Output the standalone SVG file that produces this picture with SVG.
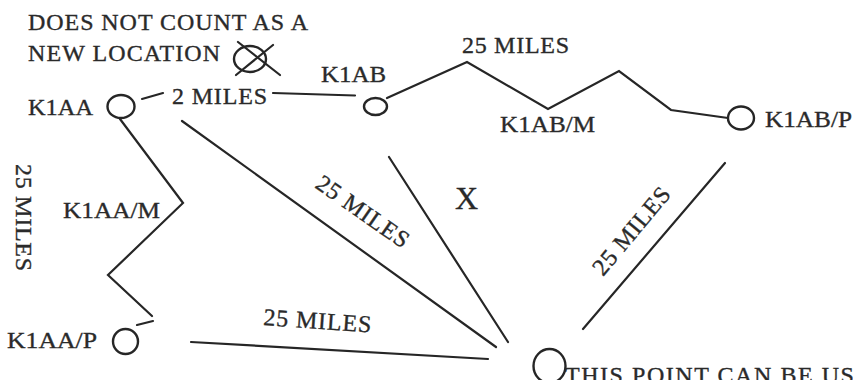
<svg xmlns="http://www.w3.org/2000/svg" width="853" height="380" viewBox="0 0 853 380">
<style>
.t{font-family:"Liberation Serif","Times New Roman",serif;font-size:24px;fill:#2a2a2a;stroke:#2a2a2a;stroke-width:0.35}
.s{fill:none;stroke:#262626;stroke-width:2.2;stroke-linecap:round;stroke-linejoin:miter}
.c{fill:none;stroke:#262626;stroke-width:2.4}
</style>
<rect width="853" height="380" fill="#ffffff"/>
<g id="connectors">
<line class="s" x1="142" y1="99" x2="163" y2="93"/>
<line class="s" x1="273" y1="93" x2="355" y2="95.5"/>
<polyline class="s" points="387,98 467,62 548,109 619,71 671,110 728,118"/>
<polyline class="s" points="120,119 183,203 108,275 152,316"/>
<line class="s" x1="137" y1="325" x2="153" y2="321"/>
<line class="s" x1="182" y1="121" x2="496" y2="347"/>
<line class="s" x1="389" y1="157" x2="508" y2="342"/>
<line class="s" x1="725" y1="163" x2="583" y2="329"/>
<line class="s" x1="191" y1="342" x2="488" y2="359"/>
</g>
<g id="note">
<text class="t" x="28" y="30" textLength="280" lengthAdjust="spacing">DOES NOT COUNT AS A</text>
<text class="t" x="28" y="61" textLength="192" lengthAdjust="spacing">NEW LOCATION</text>
</g>
<g id="crossed">
<ellipse class="c" cx="250" cy="59" rx="16" ry="13"/>
<line class="s" x1="238" y1="42" x2="280" y2="75"/>
<line class="s" x1="236" y1="75" x2="273" y2="45"/>
</g>
<g id="K1AA">
<text class="t" x="28" y="115" textLength="65" lengthAdjust="spacingAndGlyphs">K1AA</text>
<ellipse class="c" cx="121" cy="106.5" rx="13.5" ry="11.5"/>
</g>
<g id="K1AB">
<text class="t" x="321" y="82" textLength="65" lengthAdjust="spacingAndGlyphs">K1AB</text>
<ellipse class="c" cx="375.5" cy="106.5" rx="11.5" ry="8.5"/>
</g>
<g id="K1AB-M">
<text class="t" x="500" y="132" textLength="95" lengthAdjust="spacingAndGlyphs">K1AB/M</text>
</g>
<g id="K1AB-P">
<ellipse class="c" cx="741" cy="118" rx="13" ry="11.5"/>
<text class="t" x="765" y="127" textLength="87" lengthAdjust="spacingAndGlyphs">K1AB/P</text>
</g>
<g id="K1AA-M">
<text class="t" x="63" y="218" textLength="97" lengthAdjust="spacingAndGlyphs">K1AA/M</text>
</g>
<g id="K1AA-P">
<text class="t" x="7" y="348" textLength="90" lengthAdjust="spacingAndGlyphs">K1AA/P</text>
<ellipse class="c" cx="125.5" cy="341.5" rx="12.5" ry="12.5"/>
</g>
<g id="point">
<ellipse class="c" cx="549.5" cy="366" rx="16" ry="17"/>
<text class="t" x="565" y="383" textLength="324" lengthAdjust="spacing">THIS POINT CAN BE USED</text>
</g>
<g id="labels">
<text class="t" x="172" y="104" textLength="95" lengthAdjust="spacing">2 MILES</text>
<text class="t" x="462" y="53" textLength="107" lengthAdjust="spacing">25 MILES</text>
<text class="t" transform="translate(16,164) rotate(90)" textLength="107" lengthAdjust="spacing">25 MILES</text>
<text class="t" transform="translate(263,325) rotate(4)" textLength="108" lengthAdjust="spacing">25 MILES</text>
<text class="t" transform="translate(314,187) rotate(35)" textLength="108" lengthAdjust="spacing">25 MILES</text>
<text class="t" transform="translate(603,277) rotate(-50)" textLength="107" lengthAdjust="spacing">25 MILES</text>
<text class="t" x="455" y="209" style="font-size:32px">X</text>
</g>
</svg>
